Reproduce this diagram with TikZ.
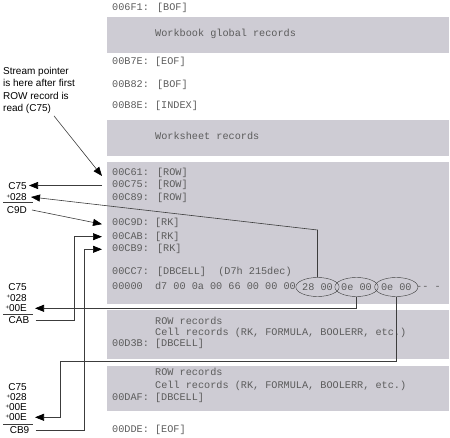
\documentclass[tikz,border=0pt]{standalone}
\usepackage{fontspec}
\usetikzlibrary{arrows.meta, shapes.geometric}
\newfontfamily\recfont{Liberation Mono}
\newfontfamily\notefont{Liberation Sans}
\definecolor{bandgray}{RGB}{206,204,212}
\definecolor{recgray}{RGB}{92,92,92}
\definecolor{wiregray}{RGB}{60,60,60}
\newcommand{\plusmark}{\raisebox{2.5pt}{\fontsize{6}{6}\selectfont+}}

\begin{document}
\begin{tikzpicture}[x=1pt, y=-1pt,
		rec/.style={font={\recfont\fontsize{10.2}{12}\selectfont}, text=recgray, anchor=west, inner sep=0pt, text height=7pt, text depth=2pt},
		lbl/.style={font={\notefont\fontsize{10}{12}\selectfont}, anchor=east, inner sep=0pt, text height=7.2pt, text depth=0pt},
		band/.style={fill=bandgray, draw=none},
		byte/.style={ellipse, draw=wiregray, font={\recfont\fontsize{10.2}{12}\selectfont}, text=recgray, inner sep=0pt, minimum width=35pt, minimum height=19pt},
		wire/.style={draw=wiregray, line width=0.6pt},
		ptr/.style={wire, -{Triangle[length=9pt, width=7pt, color=black]}}]
			\useasboundingbox (0,0) rectangle (450,438);

			% Draw the shaded bands
			\fill[band] (107,17) rectangle (449,53);
			\fill[band] (107,120) rectangle (449,156);
			\fill[band] (107,162) rectangle (449,304);
			\fill[band] (107,310) rectangle (449,359);
			\fill[band] (107,366) rectangle (449,411);

			% Records of the stream
			\node[rec] (rbof1) at (112,8) {006F1: [BOF]};
			\node[rec] (rwb) at (155,34) {Workbook global records};
			\node[rec] (reof1) at (112,62) {00B7E: [EOF]};
			\node[rec] (rbof2) at (112,85) {00B82: [BOF]};
			\node[rec] (rindex) at (112,106) {00B8E: [INDEX]};
			\node[rec] (rws) at (155,137) {Worksheet records};
			\node[rec] (r61) at (112,173) {00C61: [ROW]};
			\node[rec] (r75) at (112,185.5) {00C75: [ROW]};
			\node[rec] (r89) at (112,198) {00C89: [ROW]};
			\node[rec] (r9d) at (112,222.7) {00C9D: [RK]};
			\node[rec] (rab) at (112,236.7) {00CAB: [RK]};
			\node[rec] (rb9) at (112,249.3) {00CB9: [RK]};
			\node[rec] (rc7) at (112,272) {00CC7: [DBCELL]~~(D7h 215dec)};
			\node[rec] (rhex) at (112,287) {00000~~d7 00 0a 00 66 00 00 00};
			\node[byte] (b28) at (317.5,287) {28 00};
			\node[byte] (b0e1) at (356.5,287) {0e 00};
			\node[byte] (b0e2) at (396.3,287) {0e 00};
			\node[rec] (rtail) at (416,287) {-- -};
			\node[rec] (rrow1) at (155,322) {ROW records};
			\node[rec] (rcell1) at (155,333) {Cell records (RK, FORMULA, BOOLERR, etc.)};
			\node[rec] (rd3b) at (112,344.3) {00D3B: [DBCELL]};
			\node[rec] (rrow2) at (155,373.3) {ROW records};
			\node[rec] (rcell2) at (155,386) {Cell records (RK, FORMULA, BOOLERR, etc.)};
			\node[rec] (rdaf) at (112,398.3) {00DAF: [DBCELL]};
			\node[rec] (reof2) at (112,430) {00DDE: [EOF]};

			% Note and offset sums on the left
			\node[font={\notefont\fontsize{10}{12.4}\selectfont}, align=left, anchor=north west, inner sep=0pt] (note) at (3,67)
				{Stream pointer\\is here after first\\ROW record is\\read (C75)};

			\node[lbl] (la75) at (27,185.5) {C75};
			\node[lbl] (la28) at (27,197) {\plusmark028};
			\node[lbl] (la9d) at (27,210) {C9D};
			\draw[wire] (3,202.5) -- (33,202.5);

			\node[lbl] (lb75) at (27,287) {C75};
			\node[lbl] (lb28) at (27,297.5) {\plusmark028};
			\node[lbl] (lb0e) at (27,308.3) {\plusmark00E};
			\node[lbl] (lbab) at (29.5,320) {CAB};
			\draw[wire] (3,314) -- (33,314);

			\node[lbl] (lc75) at (27,387.3) {C75};
			\node[lbl] (lc28) at (27,397) {\plusmark028};
			\node[lbl] (lc0e) at (27,407) {\plusmark00E};
			\node[lbl] (lc0f) at (27,417.3) {\plusmark00E};
			\node[lbl] (lcb9) at (29.5,430) {CB9};
			\draw[wire] (3,424) -- (33,424);

			% Draw the pointers
			\draw[ptr] ([xshift=51pt, yshift=-2pt]note.south west) -- ([xshift=-10pt, yshift=-3pt]r61.west);
			\draw[ptr] ([xshift=-10pt]r75.west) -- ([xshift=2pt]la75.east);
			\draw[ptr] (b28.north) -- (317.5,230) -- ([xshift=4pt]la28.east);
			\draw[ptr] ([xshift=5pt]la9d.east) -- ([xshift=-10pt, yshift=-1.5pt]r9d.west);
			\draw[ptr] ([xshift=6pt]lbab.east) -| ([xshift=-38pt]rab.west) -- ([xshift=-10pt]rab.west);
			\draw[ptr] ([xshift=6pt]lcb9.east) -| ([xshift=-28pt]rb9.west) -- ([xshift=-10pt]rb9.west);
			\draw[ptr] (b0e1.south) |- ([xshift=8pt]lb0e.east);
			\coordinate (bend) at (60,361.7);
			\draw[ptr] (b0e2.south) |- (bend) |- ([xshift=8pt]lc0f.east);

		\end{tikzpicture}
\end{document}
